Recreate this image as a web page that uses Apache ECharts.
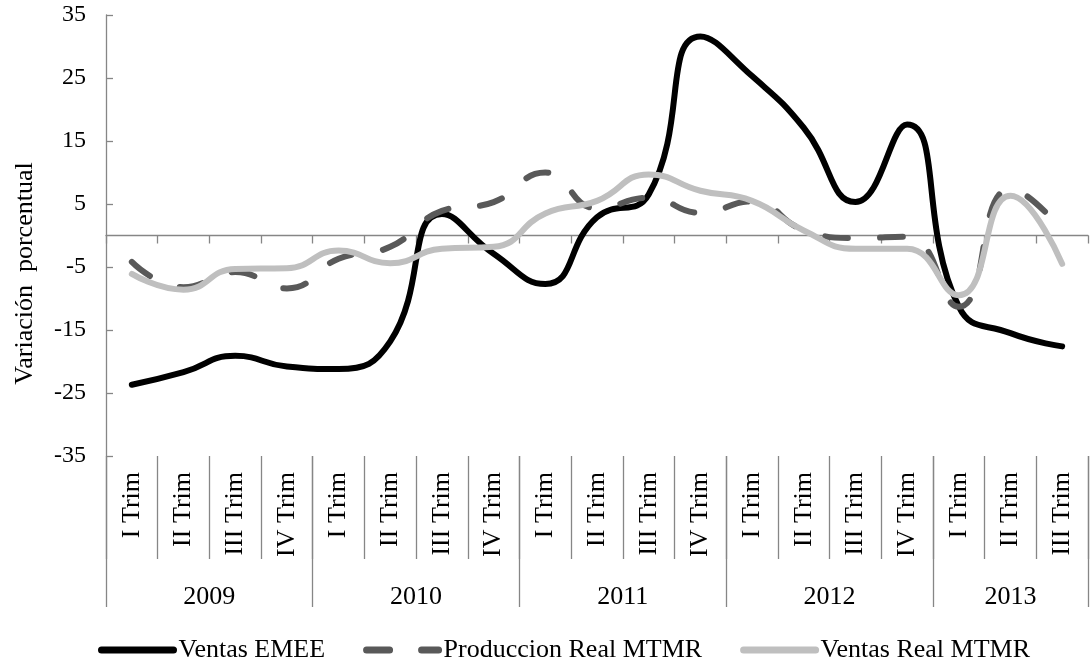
<!DOCTYPE html>
<html>
<head>
<meta charset="utf-8">
<script src="https://cdn.jsdelivr.net/npm/echarts@6/dist/echarts.min.js"></script>
<style>
  html, body { margin: 0; padding: 0; background: #fff; }
  #chart { width: 1091px; height: 663px; }
</style>
</head>
<body>
<div id="chart"></div>
<script>
// quarter labels, one per point
const quarters = [
  'I Trim', 'II Trim', 'III Trim', 'IV Trim',
  'I Trim', 'II Trim', 'III Trim', 'IV Trim',
  'I Trim', 'II Trim', 'III Trim', 'IV Trim',
  'I Trim', 'II Trim', 'III Trim', 'IV Trim',
  'I Trim', 'II Trim', 'III Trim'
];
const years = ['2009', '2010', '2011', '2012', '2013'];
const quartersPerYear = [4, 4, 4, 4, 3];
const yTicks = [-35, -25, -15, -5, 5, 15, 25, 35];

const ventasEMEE = [-23.7, -21.7, -19.1, -20.8, -21.2, -16.8, 3.4, -2.9, -7.7,
  2.9, 6.5, 31.6, 25.3, 17.1, 5.3, 17.6, -11.3, -15.5, -17.6];
const produccionRealMTMR = [-4.2, -8.2, -5.8, -8.4, -3.7, -1.8, 3.9, 5.3, 10.0,
  4.3, 6.0, 3.6, 5.4, 0.9, -0.4, -0.2, -11.3, 7.4, 0.8];
const ventasRealMTMR = [-6.1, -8.6, -5.3, -5.2, -2.4, -4.4, -2.1, -1.8, 3.5,
  5.5, 9.7, 7.1, 5.5, 0.8, -2.1, -2.1, -9.5, 6.3, -4.5];

// year axis uses half-quarter slots so a label can sit between two quarters
const yearSlots = [];
const yearBounds = [];
let start = 0;
for (let i = 0; i < quarters.length * 2 + 1; i++) yearSlots.push('');
years.forEach((y, i) => {
  yearBounds.push(start * 2);
  yearSlots[start * 2 + quartersPerYear[i]] = y;
  start += quartersPerYear[i];
});
yearBounds.push(start * 2);

const font = "'Liberation Serif', 'Times New Roman', serif";
const axisGray = '#868686';

const chart = echarts.init(document.getElementById('chart'));
chart.setOption({
  animation: false,
  textStyle: { fontFamily: font, color: '#000' },
  grid: { left: 106, right: 1, top: 15, bottom: 207 },
  legend: {
    left: 98,
    top: 637,
    padding: 0,
    itemWidth: 72,
    itemHeight: 14,
    itemGap: 38,
    itemStyle: { opacity: 0 },
    lineStyle: { width: 7, cap: 'round' },
    textStyle: { fontFamily: font, fontSize: 26, color: '#000' },
    data: ['Ventas EMEE', 'Produccion Real MTMR', 'Ventas Real MTMR']
  },
  xAxis: [
    {
      // zero line with small ticks
      type: 'category',
      position: 'bottom',
      data: quarters,
      axisLine: { onZero: true, lineStyle: { color: axisGray, width: 1.3 } },
      axisTick: { show: true, interval: 0, length: 8, lineStyle: { color: axisGray, width: 1.3 } },
      axisLabel: { show: false }
    },
    {
      type: 'category',
      position: 'bottom',
      data: quarters,
      axisLine: { show: false, onZero: false },
      axisTick: { show: true, interval: 0, length: 103, lineStyle: { color: axisGray, width: 1.3 } },
      axisLabel: {
        interval: 0, rotate: 90, margin: 16,
        fontFamily: font, fontSize: 26, color: '#000'
      }
    },
    {
      type: 'category',
      position: 'bottom',
      boundaryGap: false,
      data: yearSlots,
      axisLine: { show: false, onZero: false },
      axisTick: {
        show: true, length: 151,
        interval: (idx) => yearBounds.indexOf(idx) >= 0,
        lineStyle: { color: axisGray, width: 1.3 }
      },
      axisLabel: { interval: 0, margin: 128, fontFamily: font, fontSize: 26, color: '#000' }
    }
  ],
  yAxis: {
    type: 'value',
    min: -35,
    max: 35,
    name: 'Variación  porcentual',
    nameLocation: 'middle',
    nameRotate: 90,
    nameGap: 68,
    nameTextStyle: { fontFamily: font, fontSize: 26, color: '#000', padding: [0, 76, 0, 0] },
    axisLine: { show: true, lineStyle: { color: axisGray, width: 1.3 } },
    axisTick: { show: true, inside: true, length: 7, customValues: yTicks, lineStyle: { color: axisGray, width: 1.3 } },
    axisLabel: { customValues: yTicks, margin: 20, fontFamily: font, fontSize: 24, color: '#000' },
    splitLine: { show: false }
  },
  series: [
    {
      name: 'Ventas EMEE',
      type: 'line',
      data: ventasEMEE,
      smooth: true,
      symbol: 'none',
      lineStyle: { color: '#000000', width: 6, cap: 'round' },
      itemStyle: { color: '#000000' }
    },
    {
      name: 'Produccion Real MTMR',
      type: 'line',
      data: produccionRealMTMR,
      smooth: true,
      symbol: 'none',
      lineStyle: { color: '#595959', width: 6, type: [23, 32], cap: 'round' },
      itemStyle: { color: '#595959' }
    },
    {
      name: 'Ventas Real MTMR',
      type: 'line',
      data: ventasRealMTMR,
      smooth: true,
      symbol: 'none',
      lineStyle: { color: '#bfbfbf', width: 6, cap: 'round' },
      itemStyle: { color: '#bfbfbf' }
    }
  ]
});
</script>
</body>
</html>
